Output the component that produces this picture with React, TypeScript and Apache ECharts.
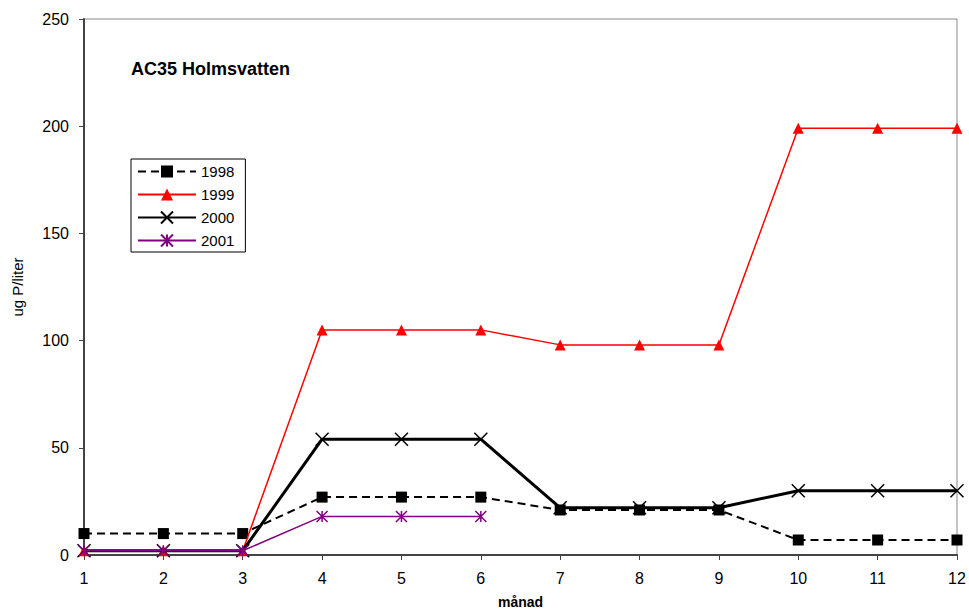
import React, { useEffect, useRef } from "react";
import * as echarts from "echarts";

const months = ["1", "2", "3", "4", "5", "6", "7", "8", "9", "10", "11", "12"];
const seriesNames = ["1998", "1999", "2000", "2001"];
const s1998 = [10, 10, 10, 27, 27, 27, 21, 21, 21, 7, 7, 7];
const s1999 = [2, 2, 2, 105, 105, 105, 98, 98, 98, 199, 199, 199];
const s2000 = [2, 2, 2, 54, 54, 54, 22, 22, 22, 30, 30, 30];
const s2001 = [2, 2, 2, 18, 18, 18];
const titleText = "AC35 Holmsvatten";
const yName = "ug P/liter";
const xName = "månad";

const FONT = "Arial, 'Liberation Sans', sans-serif";

export default function App() {
  const ref = useRef<HTMLDivElement>(null);
  useEffect(() => {
    if (!ref.current) return;
    const chart = echarts.init(ref.current, null, { renderer: "svg" });
    chart.setOption({
      animation: false,
      backgroundColor: "#fff",
      textStyle: { fontFamily: FONT },
      grid: {
        left: 84,
        right: 12,
        top: 19,
        bottom: 55,
        show: true,
        borderColor: "#888",
        borderWidth: 1,
      },
      legend: {
        orient: "vertical",
        left: 131,
        top: 159,
        data: seriesNames,
        itemWidth: 58,
        itemHeight: 15,
        itemGap: 8,
        padding: [5, 11, 4, 6],
        borderColor: "#000",
        borderWidth: 1,
        backgroundColor: "#fff",
        textStyle: { fontFamily: FONT, fontSize: 15, color: "#000" },
      },
      graphic: [
        {
          type: "text",
          left: 131,
          top: 60,
          style: {
            text: titleText,
            font: `bold 18px ${FONT}`,
            fill: "#000",
          },
        },
      ],
      xAxis: {
        type: "category",
        data: months,
        boundaryGap: false,
        name: xName,
        nameLocation: "middle",
        nameGap: 40,
        nameTextStyle: { fontFamily: FONT, fontSize: 14, fontWeight: "bold", color: "#000" },
        axisLine: { lineStyle: { color: "#444", width: 2 } },
        axisTick: { show: true, length: 5, lineStyle: { color: "#444" } },
        axisLabel: { color: "#000", fontSize: 16, margin: 15, fontFamily: FONT },
        splitLine: { show: false },
      },
      yAxis: {
        type: "value",
        min: 0,
        max: 250,
        interval: 50,
        name: yName,
        nameLocation: "middle",
        nameGap: 59,
        nameTextStyle: { fontFamily: FONT, fontSize: 15, color: "#000" },
        axisLine: { show: true, lineStyle: { color: "#444", width: 2 } },
        axisTick: { show: true, length: 5, lineStyle: { color: "#444" } },
        axisLabel: { color: "#000", fontSize: 16, margin: 15, fontFamily: FONT },
        splitLine: { show: false },
      },
      series: [
        {
          name: "1998",
          type: "line",
          data: s1998,
          symbol: "rect",
          symbolSize: 11,
          itemStyle: { color: "#000" },
          lineStyle: { color: "#000", width: 2, type: [8, 5] },
          z: 2,
        },
        {
          name: "1999",
          type: "line",
          data: s1999,
          symbol: "triangle",
          symbolSize: 11,
          itemStyle: { color: "#ff0000" },
          lineStyle: { color: "#ff0000", width: 1.5 },
          z: 3,
        },
        {
          name: "2000",
          type: "line",
          data: s2000,
          symbol: "path://M0,0L10,10M10,0L0,10",
          symbolSize: 13,
          itemStyle: { color: "#000", borderColor: "#000", borderWidth: 1.5 },
          lineStyle: { color: "#000", width: 3 },
          z: 4,
        },
        {
          name: "2001",
          type: "line",
          data: s2001,
          symbol: "path://M0,0L10,10M10,0L0,10M5,0L5,10",
          symbolSize: 11,
          itemStyle: { color: "#800080", borderColor: "#800080", borderWidth: 1.5 },
          lineStyle: { color: "#800080", width: 1.5 },
          z: 5,
        },
      ],
    });
    return () => chart.dispose();
  }, []);
  return <div ref={ref} style={{ width: 969, height: 614, position: "absolute", left: 0, top: 0 }} />;
}
